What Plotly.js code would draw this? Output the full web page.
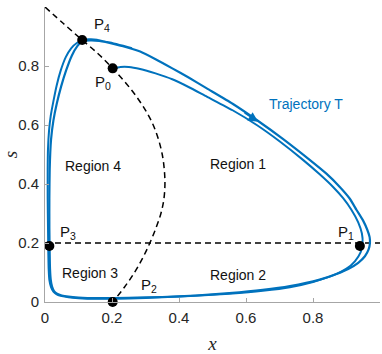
<!DOCTYPE html>
<html>
<head>
<meta charset="utf-8">
<script src="https://cdn.plot.ly/plotly-3.0.1.min.js"></script>
<style>html,body{margin:0;padding:0;background:#fff;}#chart{width:382px;height:354px;}</style>
</head>
<body>
<div id="chart"></div>
<script>
// Dashed curve (boundary between regions)
var curveX = [0, 0.055, 0.111, 0.16, 0.202, 0.243, 0.277, 0.305, 0.323, 0.339, 0.350, 0.356, 0.358, 0.355, 0.346, 0.331, 0.313, 0.292, 0.267, 0.237, 0.202];
var curveS = [1, 0.944, 0.888, 0.84, 0.792, 0.74, 0.69, 0.64, 0.6, 0.55, 0.5, 0.45, 0.4, 0.35, 0.3, 0.25, 0.2, 0.15, 0.1, 0.05, 0];
// Horizontal dashed line s = 0.2
var lineX = [0, 1];
var lineS = [0.2, 0.2];
// Trajectory T, first (inner) loop: from P0 to P4
var innerX = [0.202, 0.225, 0.25, 0.284, 0.33, 0.38, 0.43, 0.483, 0.56, 0.632, 0.70, 0.771, 0.82, 0.86, 0.89, 0.915, 0.935, 0.946, 0.948, 0.942, 0.925, 0.90, 0.86, 0.80, 0.731, 0.65, 0.55, 0.45, 0.35, 0.25, 0.16, 0.10, 0.07, 0.05, 0.035, 0.025, 0.018, 0.013, 0.011, 0.010, 0.009, 0.008, 0.008, 0.009, 0.012, 0.017, 0.025, 0.035, 0.047, 0.062, 0.078, 0.095, 0.111];
var innerS = [0.792, 0.797, 0.797, 0.79, 0.775, 0.755, 0.728, 0.696, 0.65, 0.6, 0.545, 0.481, 0.433, 0.39, 0.352, 0.312, 0.27, 0.232, 0.199, 0.168, 0.138, 0.113, 0.09, 0.068, 0.05, 0.038, 0.028, 0.021, 0.016, 0.012, 0.011, 0.013, 0.016, 0.02, 0.026, 0.035, 0.05, 0.075, 0.11, 0.16, 0.25, 0.35, 0.45, 0.52, 0.58, 0.63, 0.68, 0.735, 0.785, 0.83, 0.86, 0.878, 0.886];
// Trajectory T, second (outer) loop: from P4 around again
var outerX = [0.111, 0.13, 0.155, 0.18, 0.23, 0.284, 0.33, 0.38, 0.43, 0.483, 0.56, 0.632, 0.71, 0.791, 0.84, 0.88, 0.91, 0.93, 0.95, 0.962, 0.969, 0.970, 0.966, 0.955, 0.935, 0.905, 0.87, 0.82, 0.731, 0.65, 0.55, 0.45, 0.35, 0.25, 0.16, 0.10, 0.07, 0.05, 0.036, 0.027, 0.021, 0.017, 0.015, 0.014, 0.013, 0.013, 0.014, 0.018, 0.025, 0.035, 0.048, 0.063, 0.08, 0.097, 0.111, 0.14, 0.19, 0.26];
var outerS = [0.888, 0.890, 0.889, 0.882, 0.868, 0.849, 0.823, 0.792, 0.76, 0.724, 0.672, 0.617, 0.553, 0.481, 0.435, 0.39, 0.35, 0.312, 0.275, 0.245, 0.22, 0.2, 0.178, 0.155, 0.133, 0.112, 0.095, 0.076, 0.054, 0.041, 0.03, 0.022, 0.017, 0.014, 0.013, 0.015, 0.018, 0.022, 0.028, 0.037, 0.052, 0.077, 0.112, 0.162, 0.25, 0.35, 0.45, 0.55, 0.615, 0.672, 0.73, 0.785, 0.835, 0.868, 0.884, 0.887, 0.88, 0.86];
// Marked points
var pointNames = ["P<sub>0</sub>", "P<sub>1</sub>", "P<sub>2</sub>", "P<sub>3</sub>", "P<sub>4</sub>"];
var pointX = [0.202, 0.94, 0.202, 0.013, 0.111];
var pointS = [0.792, 0.19, 0.0, 0.19, 0.888];
var pointLabelX = [0.143, 0.868, 0.281, 0.038, 0.140];
var pointLabelS = [0.745, 0.236, 0.055, 0.237, 0.942];
// Region labels
var regionNames = ["Region 1", "Region 2", "Region 3", "Region 4"];
var regionX = [0.577, 0.577, 0.134, 0.144];
var regionS = [0.468, 0.090, 0.097, 0.462];
// Tick labels
var tickVals = [0, 0.2, 0.4, 0.6, 0.8, 1];
var tickText = ["0", "0.2", "0.4", "0.6", "0.8", "1"];
// Trajectory label and direction arrow
var trajName = "Trajectory T";
var trajLabelX = 0.778, trajLabelS = 0.67;
var arrowX = 0.636, arrowS = 0.611;

var blue = "#0072BD";
var traces = [
  {x: curveX, y: curveS, mode: "lines", type: "scatter", line: {color: "#000", width: 1.5, dash: "6px,4px", shape: "spline", smoothing: 1}, cliponaxis: false, hoverinfo: "skip"},
  {x: lineX, y: lineS, mode: "lines", type: "scatter", line: {color: "#000", width: 1.5, dash: "6px,4px"}, cliponaxis: false, hoverinfo: "skip"},
  {x: innerX, y: innerS, mode: "lines", type: "scatter", line: {color: blue, width: 2, shape: "spline", smoothing: 0.5}, cliponaxis: false},
  {x: outerX, y: outerS, mode: "lines", type: "scatter", line: {color: blue, width: 2.2, shape: "spline", smoothing: 0.5}, cliponaxis: false},
  {x: pointX, y: pointS, mode: "markers", type: "scatter", marker: {color: "#000", size: 10}, cliponaxis: false}
];

var ann = [];
for (var i = 0; i < pointNames.length; i++) {
  ann.push({x: pointLabelX[i], y: pointLabelS[i], text: pointNames[i], showarrow: false, xanchor: "left", yanchor: "middle",
    font: {family: "Liberation Sans, Arial, sans-serif", size: 15, color: "#111"}});
}
for (var j = 0; j < regionNames.length; j++) {
  ann.push({x: regionX[j], y: regionS[j], text: regionNames[j], showarrow: false, xanchor: "center", yanchor: "middle",
    font: {family: "Liberation Sans, Arial, sans-serif", size: 14, color: "#111"}});
}
ann.push({x: trajLabelX, y: trajLabelS, text: trajName, showarrow: false, xanchor: "center", yanchor: "middle",
  font: {family: "Liberation Sans, Arial, sans-serif", size: 14, color: blue}});
ann.push({x: arrowX, y: arrowS, ax: -15, ay: -10, text: "", showarrow: true, arrowhead: 2, arrowsize: 1.3, arrowwidth: 1.5, arrowcolor: blue, standoff: 0});

var axisCommon = {
  range: [0, 1], showgrid: false, zeroline: false, showline: true, linecolor: "#a6a6a6", linewidth: 1,
  ticks: "inside", ticklen: 4, tickcolor: "#a6a6a6", tickvals: tickVals, ticktext: tickText,
  tickfont: {family: "Liberation Sans, Arial, sans-serif", size: 15, color: "#262626"}, fixedrange: true
};
var layout = {
  width: 382, height: 354,
  margin: {l: 45, r: 2, t: 7, b: 52},
  paper_bgcolor: "#fff", plot_bgcolor: "#fff",
  showlegend: false,
  xaxis: Object.assign({}, axisCommon, {ticklabelstandoff: 2, title: {text: "<i>x</i>", font: {family: "Liberation Serif, Times New Roman, serif", size: 19, color: "#262626"}, standoff: 14}}),
  yaxis: Object.assign({}, axisCommon, {ticklabelstandoff: 2, title: {text: "<i>s</i>", font: {family: "Liberation Serif, Times New Roman, serif", size: 19, color: "#262626"}, standoff: 15}}),
  annotations: ann
};
Plotly.newPlot("chart", traces, layout, {displayModeBar: false, staticPlot: true});
</script>
</body>
</html>
